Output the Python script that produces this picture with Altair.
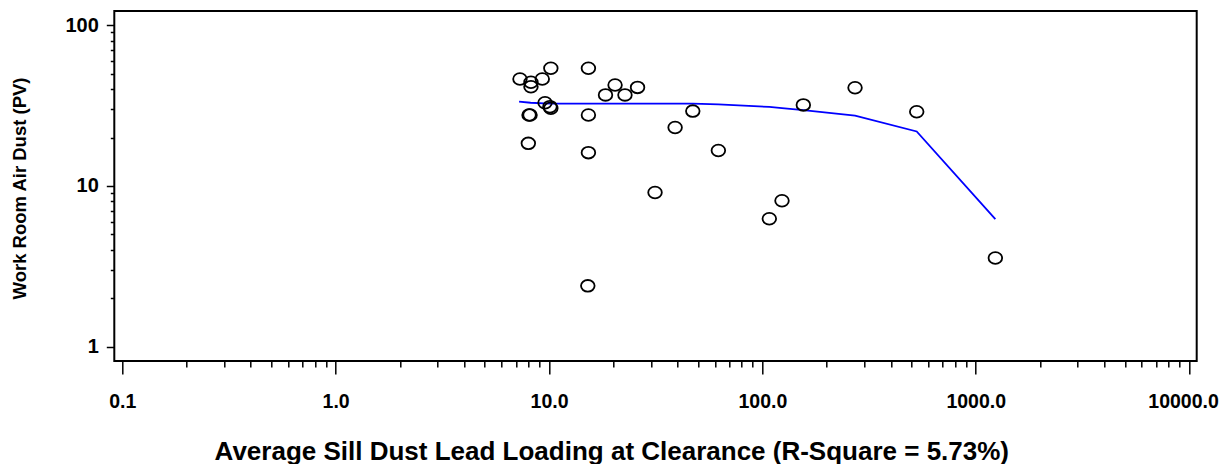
import altair as alt
import pandas as pd

# Scatter data
pt_x = [7.31, 8.23, 8.23, 9.30, 10.2, 15.3, 9.58, 10.1, 10.2, 8.06, 8.15, 15.3, 8.0, 15.3,
        18.4, 20.4, 22.7, 26.0, 15.2, 31.4, 39.0, 47.2, 62.2, 107.8, 123.6, 155.6, 271.9, 529.0, 1236.0]
pt_y = [46.2, 44.1, 41.4, 46.2, 53.9, 53.9, 32.9, 31.1, 30.4, 27.6, 27.6, 27.6, 18.4, 16.1,
        36.8, 42.4, 36.8, 41.0, 2.39, 9.10, 23.1, 29.2, 16.6, 6.25, 8.09, 31.9, 40.8, 28.9, 3.56]

# Fitted curve (blue line)
fit_x = [7.24, 8.2, 9.5, 10.2, 15.3, 26.0, 47.2, 62.2, 107.8, 123.6, 155.6, 271.9, 529.0, 1236.0]
fit_y = [33.4, 32.9, 32.6, 32.5, 32.5, 32.5, 32.5, 32.1, 31.0, 30.5, 29.6, 27.4, 21.8, 6.22]

# Axis ticks
x_major = [0.1, 1, 10, 100, 1000, 10000]
x_minor = [round(k * m, 6) for m in [0.1, 1, 10, 100, 1000] for k in range(2, 10)]
y_major = [1, 10, 100]
y_minor = [round(k * m, 6) for m in [1, 10] for k in range(2, 10)]

x_title = "Average Sill Dust Lead Loading at Clearance (R-Square = 5.73%)"
y_title = "Work Room Air Dust (PV)"

points_df = pd.DataFrame({"x": pt_x, "y": pt_y})
fit_df = pd.DataFrame({"x": fit_x, "y": fit_y})

FONT = "Liberation Sans"
x_major_js = "[" + ",".join(str(v) for v in x_major) + "]"
y_major_js = "[" + ",".join(str(v) for v in y_major) + "]"

x_axis = alt.Axis(
    values=sorted(x_major + x_minor),
    labelExpr=f"indexof({x_major_js}, datum.value) >= 0 ? format(datum.value, '.1f') : ''",
    tickSize={"condition": {"test": f"indexof({x_major_js}, datum.value) >= 0", "value": 13}, "value": 6},
    tickWidth=1.5, tickColor="black", domain=False, grid=False,
    labelFont=FONT, labelFontSize=19.5, labelFontWeight="bold", labelColor="black",
    labelBaseline="alphabetic", labelPadding=33, labelOverlap=False, labelFlush=False,
    labelOffset={"condition": {"test": "datum.value == 10000", "value": -6}, "value": 0},
    title=x_title, titleFont=FONT, titleFontSize=26, titleFontWeight="bold", titleColor="black",
    titleX=497, titleY=98, titleAlign="center", titleBaseline="alphabetic",
)
y_axis = alt.Axis(
    values=sorted(y_major + y_minor),
    labelExpr=f"indexof({y_major_js}, datum.value) >= 0 ? format(datum.value, '.0f') : ''",
    tickSize={"condition": {"test": f"indexof({y_major_js}, datum.value) >= 0", "value": 8}, "value": 4},
    tickWidth=1.5, tickColor="black", domain=False, grid=False,
    labelFont=FONT, labelFontSize=20, labelFontWeight="bold", labelColor="black",
    labelBaseline="middle", labelPadding=8, labelOverlap=False, labelFlush=False,
    title=y_title, titleFont=FONT, titleFontSize=18.5, titleFontWeight="bold", titleColor="black",
    titleX=-95, titleY=177, titleAngle=270, titleAlign="center", titleBaseline="middle",
)

x_scale = alt.Scale(type="log", domain=[0.09173, 10858], nice=False)
y_scale = alt.Scale(type="log", domain=[0.8149, 122.4], nice=False)

X = alt.X("x:Q", scale=x_scale, axis=x_axis)
Y = alt.Y("y:Q", scale=y_scale, axis=y_axis)

ellipse = "M-1,0A1,0.86,0,1,1,1,0A1,0.86,0,1,1,-1,0Z"

points = alt.Chart(points_df).mark_point(
    shape=ellipse, size=185, filled=False, color="black", strokeWidth=1.8, opacity=1
).encode(x=X, y=Y)

line = alt.Chart(fit_df).mark_line(color="#0000FF", strokeWidth=1.8).encode(x=X, y=Y)

chart = alt.layer(line, points).properties(
    width=1082.4, height=350,
    autosize=alt.AutoSizeParams(type="none"),
    padding={"left": 106.3, "top": 3, "right": 26.3, "bottom": 103},
    background="white",
).configure_view(stroke="black", strokeWidth=2)

chart.save("out.html", embed_options={"renderer": "svg", "actions": False})
